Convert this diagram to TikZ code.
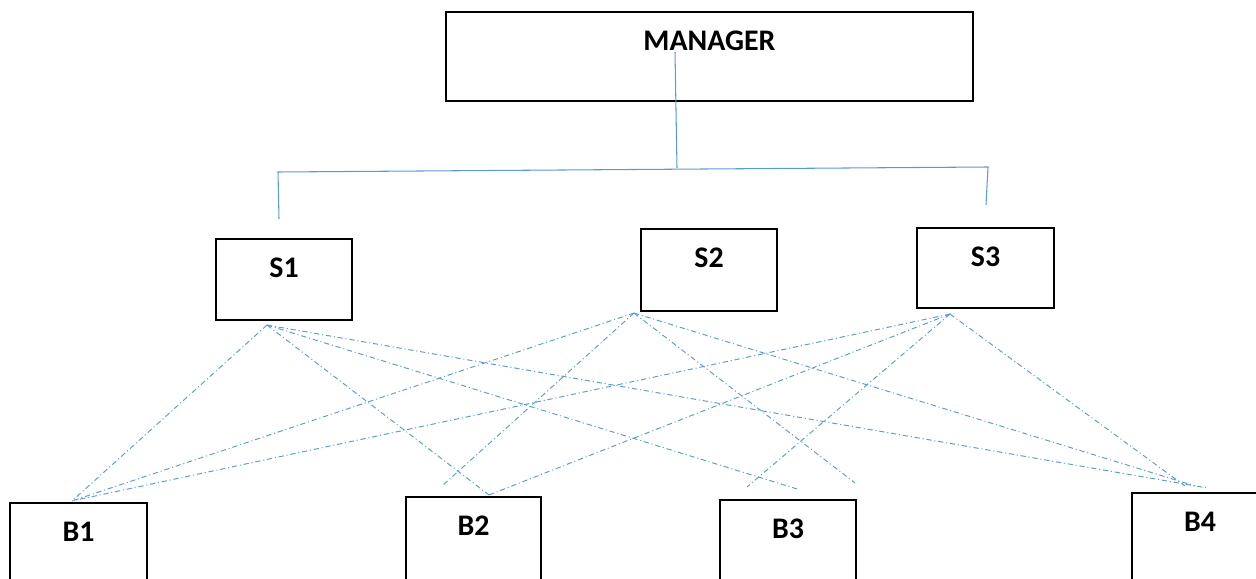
\documentclass[tikz,border=0pt]{standalone}
\usepackage{fontspec}
\setmainfont{Carlito}
\definecolor{linkblue}{RGB}{91,155,213}
\tikzset{
    box/.style={draw=black, line width=1.2pt, minimum width=2.72cm, minimum height=1.62cm, inner sep=0pt},
    lbl/.style={anchor=center, yshift=-0.6cm, inner sep=0pt, font=\bfseries\fontsize{17}{20}\selectfont},
    tree/.style={draw=linkblue, line width=0.6pt},
    link/.style={draw=linkblue, line width=0.55pt, dash pattern=on 3pt off 1.6pt on 0.6pt off 1.6pt}
}
\begin{document}
\begin{tikzpicture}
    \clip (0,0) rectangle (25.12,-11.58);

    % boxes
    \node[box, minimum width=10.54cm, minimum height=1.78cm, label={[lbl]north:MANAGER}] (mgr) at (14.19,-1.13) {};

    \node[box, label={[lbl]north:S1}] (s1) at (5.68,-5.59) {};
    \node[box, minimum height=1.64cm, label={[lbl]north:S2}] (s2) at (14.18,-5.40) {};
    \node[box, minimum width=2.74cm, minimum height=1.60cm, label={[lbl]north:S3}] (s3) at (19.71,-5.36) {};

    \node[box, minimum width=2.74cm, minimum height=1.74cm, label={[lbl]north:B1}] (b1) at (1.57,-10.93) {};
    \node[box, minimum width=2.70cm, minimum height=1.86cm, label={[lbl]north:B2}] (b2) at (9.47,-10.87) {};
    \node[box, minimum height=1.80cm, label={[lbl]north:B3}] (b3) at (15.76,-10.90) {};
    \node[box, minimum height=1.96cm, label={[lbl]north:B4}] (b4) at (24.00,-10.84) {};

    % tree from the manager
    \coordinate (mtop) at ([xshift=-0.69cm, yshift=0.09cm]mgr.center);
    \coordinate (busm) at (13.54,-3.36);
    \coordinate (busl) at (5.56,-3.44);
    \coordinate (busr) at (19.76,-3.34);
    \coordinate (s1top) at ([xshift=-0.10cm, yshift=0.38cm]s1.north);
    \coordinate (s3top) at ([xshift=0.01cm, yshift=0.44cm]s3.north);

    \draw[tree] (mtop) -- (busm);
    \draw[tree] (s1top) -- (busl) -- (busr) -- (s3top);

    % link ends
    \coordinate (s1o) at ([xshift=-0.34cm, yshift=-0.08cm]s1.south);
    \coordinate (s2o) at ([xshift=-1.50cm, yshift=-0.02cm]s2.south);
    \coordinate (s3o) at ([xshift=-0.71cm, yshift=-0.10cm]s3.south);
    \coordinate (b1i) at ([xshift=-0.13cm, yshift=0.02cm]b1.north);
    \coordinate (b2i) at ([xshift=0.31cm, yshift=0.02cm]b2.north);
    \coordinate (b2j) at ([xshift=-0.63cm, yshift=0.20cm]b2.north);
    \coordinate (b3i) at ([xshift=0.18cm, yshift=0.20cm]b3.north);
    \coordinate (b3j) at ([xshift=1.34cm, yshift=0.32cm]b3.north);
    \coordinate (b3k) at ([xshift=-0.82cm, yshift=0.24cm]b3.north);
    \coordinate (b4i) at ([xshift=0.14cm, yshift=0.08cm]b4.north);
    \coordinate (b4j) at ([xshift=-0.10cm, yshift=0.12cm]b4.north);
    \coordinate (b4k) at ([xshift=-0.30cm, yshift=0.12cm]b4.north);

    % links
    \draw[link] (s1o) -- (b1i);
    \draw[link] (s1o) -- (b2i);
    \draw[link] (s1o) -- (b3i);
    \draw[link] (s1o) -- (b4i);

    \draw[link] (s2o) -- (b1i);
    \draw[link] (s2o) -- (b2j);
    \draw[link] (s2o) -- (b3j);
    \draw[link] (s2o) -- (b4j);

    \draw[link] (s3o) -- (b1i);
    \draw[link] (s3o) -- (b2i);
    \draw[link] (s3o) -- (b3k);
    \draw[link] (s3o) -- (b4k);
\end{tikzpicture}
\end{document}
